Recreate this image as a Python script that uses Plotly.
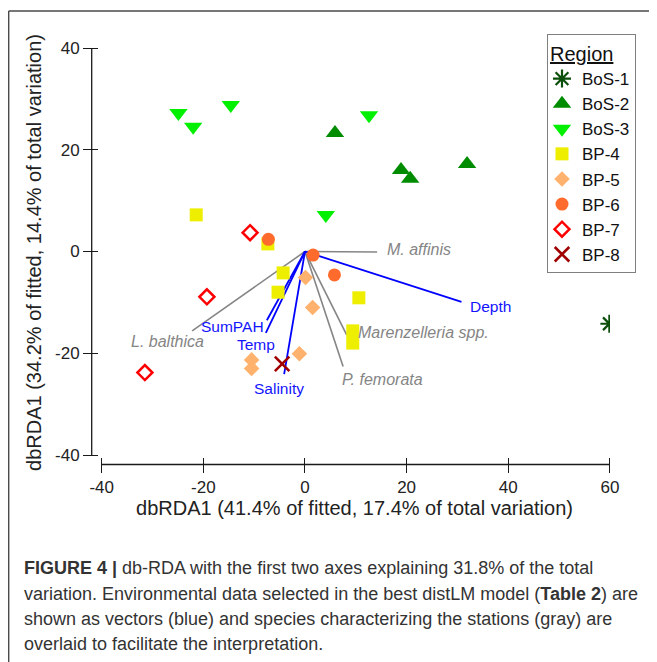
import plotly.graph_objects as go

# ---------------- data ----------------
regions = ["BoS-1", "BoS-2", "BoS-3", "BP-4", "BP-5", "BP-6", "BP-7", "BP-8"]

bos1_x = [59.9]
bos1_y = [-14.2]
bos2_x = [5.9, 18.9, 20.7, 31.9]
bos2_y = [23.3, 16.0, 14.3, 17.2]
bos3_x = [-24.9, -22.0, -14.6, 4.1, 12.6]
bos3_y = [27.2, 24.5, 28.8, 7.2, 26.8]
bp4_x = [-21.4, -7.3, -4.3, -5.3, 10.6, 9.4, 9.4]
bp4_y = [7.2, 1.5, -4.2, -8.0, -9.1, -15.6, -18.0]
bp5_x = [0.1, 1.5, -1.1, -10.5, -10.5]
bp5_y = [-5.1, -11.0, -20.1, -21.3, -23.0]
bp6_x = [-7.2, 1.6, 5.8]
bp6_y = [2.4, -0.7, -4.6]
bp7_x = [-10.8, -19.3, -31.5]
bp7_y = [3.7, -8.9, -23.8]
bp8_x = [-4.5]
bp8_y = [-22.1]

env_names = ["Depth", "SumPAH", "Temp", "Salinity"]
env_x = [30.8, -7.5, -7.7, -4.1]
env_y = [-9.9, -13.5, -16.0, -24.1]

species_names = ["M. affinis", "L. balthica", "Marenzelleria spp.", "P. femorata"]
species_x = [14.2, -22.2, 8.2, 7.5]
species_y = [-0.1, -15.6, -16.4, -22.6]

x_ticks = [-40, -20, 0, 20, 40, 60]
y_ticks = [-40, -20, 0, 20, 40]

x_title = "dbRDA1 (41.4% of fitted, 17.4% of total variation)"
y_title = "dbRDA1 (34.2% of fitted, 14.4% of total variation)"

caption_lines = [
    "<b>FIGURE 4 |</b> db-RDA with the first two axes explaining 31.8% of the total",
    "variation. Environmental data selected in the best distLM model (<b>Table 2</b>) are",
    "shown as vectors (blue) and species characterizing the stations (gray) are",
    "overlaid to facilitate the interpretation.",
]

# ---------------- layout geometry ----------------
OFF = 8                      # default page margin of the html body
PAGE_W, PAGE_H = 657, 662
W, H = PAGE_W - OFF, PAGE_H - OFF
# plot-area edges in page pixels
P_LEFT, P_RIGHT, P_TOP, P_BOTTOM = 99, 610, 48, 457
ML, MR = P_LEFT - OFF, W - (P_RIGHT - OFF)
MT, MB = P_TOP - OFF, H - (P_BOTTOM - OFF)
PW, PH = W - ML - MR, H - MT - MB
XR = [-40.53, 60.02]
YR = [-40.39, 40.0]
FONT = "Liberation Sans, Arial, sans-serif"


def pxx(px):
    """page x pixel -> paper fraction"""
    return (px - P_LEFT) / PW


def pxy(py):
    """page y pixel -> paper fraction"""
    return (P_BOTTOM - py) / PH


def dxp(v):
    return (v - XR[0]) / (XR[1] - XR[0])


def dyp(v):
    return (v - YR[0]) / (YR[1] - YR[0])


def segs(xs, ys):
    sx, sy = [], []
    for a, b in zip(xs, ys):
        sx += [0, a, None]
        sy += [0, b, None]
    return sx, sy


fig = go.Figure()

ex, ey = segs(env_x, env_y)
sx, sy = segs(species_x, species_y)
fig.add_trace(go.Scatter(x=sx, y=sy, mode="lines", line=dict(color="#858585", width=1.6),
                         showlegend=False, hoverinfo="skip"))
fig.add_trace(go.Scatter(x=ex, y=ey, mode="lines", line=dict(color="#0000ff", width=1.8),
                         showlegend=False, hoverinfo="skip"))

series = [
    (bos1_x, bos1_y, dict(symbol="asterisk-open", size=15, color="#0b4f0b",
                          line=dict(color="#0b4f0b", width=2.2))),
    (bos2_x, bos2_y, dict(symbol="triangle-up", size=16, color="#008c00", line=dict(width=0))),
    (bos3_x, bos3_y, dict(symbol="triangle-down", size=16, color="#00f000", line=dict(width=0))),
    (bp4_x, bp4_y, dict(symbol="square", size=13, color="#eeee00", line=dict(width=0))),
    (bp5_x, bp5_y, dict(symbol="diamond", size=12, color="#ffb26e", line=dict(width=0))),
    (bp6_x, bp6_y, dict(symbol="circle", size=13, color="#ff6b2c", line=dict(width=0))),
    (bp7_x, bp7_y, dict(symbol="diamond-open", size=11.5, color="#ff0000",
                        line=dict(color="#ff0000", width=2.5))),
    (bp8_x, bp8_y, dict(symbol="x-thin-open", size=14.5, color="#a00000",
                        line=dict(color="#a00000", width=2.6))),
]
for name, (xs, ys, mk) in zip(regions, series):
    fig.add_trace(go.Scatter(x=xs, y=ys, mode="markers", name=name, marker=mk))

# label placement (anchor, xshift, yshift) for each vector label
env_label_place = [("left", "middle", 6, -5), ("right", "middle", -1, -6),
                   ("center", "middle", -10, -12), ("center", "middle", -5, -14)]
species_label_place = [("left", "middle", 8, 3), ("center", "middle", -25, -11),
                       ("left", "middle", 9, 2), ("left", "middle", -3, -13)]

annotations = []
for name, x, y, (xa, ya, xs_, ys_) in zip(env_names, env_x, env_y, env_label_place):
    annotations.append(dict(x=x, y=y, xref="x", yref="y", text=name, showarrow=False,
                            xanchor=xa, yanchor=ya, xshift=xs_, yshift=ys_,
                            font=dict(family=FONT, size=15.5, color="#1414ff")))
for name, x, y, (xa, ya, xs_, ys_) in zip(species_names, species_x, species_y, species_label_place):
    annotations.append(dict(x=x, y=y, xref="x", yref="y", text="<i>%s</i>" % name, showarrow=False,
                            xanchor=xa, yanchor=ya, xshift=xs_, yshift=ys_,
                            font=dict(family=FONT, size=16, color="#858585")))

cap_y = [568, 593.5, 619, 644]
for line, cy in zip(caption_lines, cap_y):
    annotations.append(dict(x=pxx(22), y=pxy(cy), xref="paper", yref="paper", text=line,
                            showarrow=False, xanchor="left", yanchor="middle",
                            font=dict(family=FONT, size=18, color="#333333")))

shapes = [
    # detached axis lines
    dict(type="line", xref="paper", yref="paper", x0=pxx(91.7), x1=pxx(91.7),
         y0=dyp(y_ticks[0]), y1=dyp(y_ticks[-1]), line=dict(color="#1a1a1a", width=1.3)),
    dict(type="line", xref="paper", yref="paper", x0=dxp(x_ticks[0]), x1=dxp(x_ticks[-1]),
         y0=pxy(464.5), y1=pxy(464.5), line=dict(color="#1a1a1a", width=1.3)),
    # page frame
    dict(type="line", xref="paper", yref="paper", x0=pxx(8.7), x1=pxx(PAGE_W + 5),
         y0=pxy(11), y1=pxy(11), line=dict(color="#4a4a4a", width=1.4)),
    dict(type="line", xref="paper", yref="paper", x0=pxx(8.7), x1=pxx(8.7),
         y0=pxy(11), y1=pxy(PAGE_H + 5), line=dict(color="#4a4a4a", width=1.4)),
]

axis_common = dict(showgrid=False, zeroline=False, showline=False, ticks="outside",
                   ticklen=15, tickwidth=1.3, tickcolor="#1a1a1a",
                   tickfont=dict(family=FONT, size=17, color="#222222"))

fig.update_layout(
    width=W, height=H,
    margin=dict(l=ML, r=MR, t=MT, b=MB, autoexpand=False),
    paper_bgcolor="white", plot_bgcolor="white",
    font=dict(family=FONT, color="#222222"),
    xaxis=dict(range=XR, tickvals=x_ticks, ticktext=[str(v) for v in x_ticks],
               title=dict(text=x_title, font=dict(family=FONT, size=20, color="#222222"), standoff=4),
               **axis_common),
    yaxis=dict(range=YR, tickvals=y_ticks, ticktext=[str(v) for v in y_ticks],
               title=dict(text=y_title, font=dict(family=FONT, size=20, color="#222222"), standoff=8),
               **axis_common),
    legend=dict(x=pxx(547), y=pxy(34), xanchor="left", yanchor="top",
                bordercolor="#808080", borderwidth=1, bgcolor="white",
                font=dict(family=FONT, size=17, color="#111111"),
                title=dict(text="Region", side="top",
                           font=dict(family=FONT, size=20, color="#111111", lineposition="under")),
                itemwidth=30, indentation=-6),
    annotations=annotations,
    shapes=shapes,
    showlegend=True,
)

fig.write_html("out.html")
